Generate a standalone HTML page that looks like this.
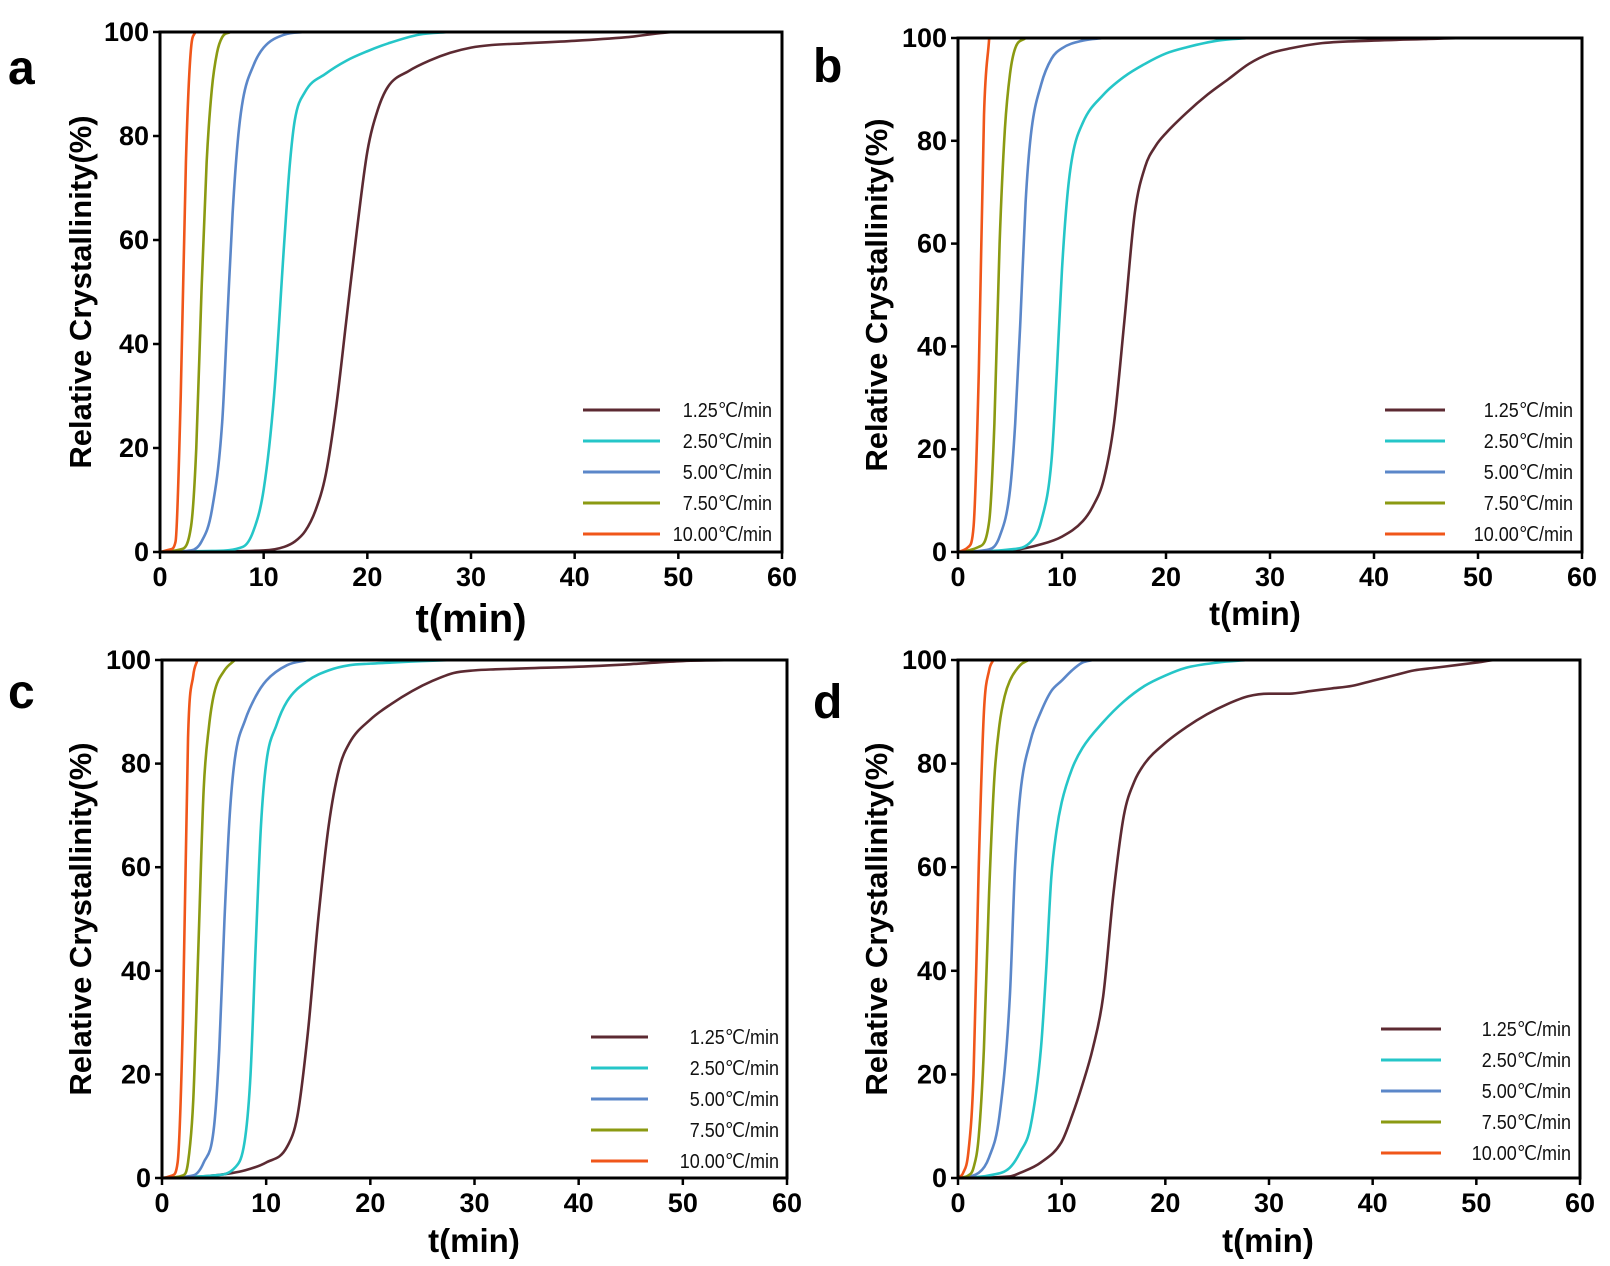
<!DOCTYPE html>
<html><head><meta charset="utf-8"><style>
html,body{margin:0;padding:0;background:#fff;}
svg{display:block;font-family:"Liberation Sans",Arial,sans-serif;}
</style></head><body>
<svg id="fig" width="1610" height="1266" viewBox="0 0 1610 1266" xmlns="http://www.w3.org/2000/svg"></svg>
<script>
const seriesLabels = ["1.25℃/min","2.50℃/min","5.00℃/min","7.50℃/min","10.00℃/min"];
const seriesColors = ["#5c2a32","#25c6c8","#5b87c9","#8b9a12","#f0561a"];
const xTicks = [0,10,20,30,40,50,60];
const yTicks = [0,20,40,60,80,100];

// panel a
const aT0=[0,10,12,13,14,15,16,17,18,19,20,21,22,24,26,28,30,32,35,40,45,50,56];
const aY0=[0,0.3,1,2,4,8,15,28,45,62,77,85,89.5,92.5,94.5,96,97,97.5,97.8,98.3,99,100,100];
const aT1=[0,5,8,9,10,11,12,12.5,13,14,16,18,20,22,25,28];
const aY1=[0,0.2,1,4,12,30,60,74,83,88.5,92,94.5,96.3,97.8,99.5,100];
const aT2=[0,3,4,5,6,6.5,7,7.5,8,9,10,12,14];
const aY2=[0,0.3,2,8,25,45,65,79,87,93.5,97,99.5,100];
const aT3=[0,2,3,3.5,4,4.5,5,5.5,6,6.8];
const aY3=[0,0.5,5,20,50,75,89,96,99,100];
const aT4=[0,1,1.5,2,2.5,3,3.4];
const aY4=[0,0.5,2,30,75,97,100];
// panel b
const bT0=[0,5,8,10,12,13,14,15,16,17,18,19,20,22,24,26,28,30,32,35,40,45,50,56];
const bY0=[0,0.3,1.5,3,6,9,14,25,45,66,75,79,81.5,85.5,89,92,95,97,98,99,99.5,99.8,100,100];
const bT1=[0,5,7,8,9,9.5,10,10.5,11,12,14,16,18,20,22,25,28];
const bY1=[0,0.5,2,6,18,35,55,69,77,83.5,89,92.5,95,97,98.2,99.5,100];
const bT2=[0,3,4,5,5.5,6,6.5,7,8,9,10,12,14];
const bY2=[0,0.5,3,12,25,45,68,81,91,96,98,99.5,100];
const bT3=[0,2,3,3.5,4,4.5,5,5.5,6.5];
const bY3=[0,1,6,25,60,82,93,98,100];
const bT4=[0,1,1.5,2,2.5,3];
const bY4=[0,1,5,35,85,100];
// panel c
const cT0=[0,5,8,10,12,13,14,15,16,17,18,20,22,24,26,28,30,32,35,40,45,50,56];
const cY0=[0,0.5,1.5,3,6,12,28,50,68,79,84,88.5,91.5,94,96,97.5,98,98.2,98.4,98.7,99.2,99.8,100];
const cT1=[0,5,7,8,8.5,9,9.5,10,11,12,14,16,18,20,22,25,28];
const cY1=[0,0.5,2,8,20,45,68,80,87.5,92,96,98,99,99.3,99.5,99.8,100];
const cT2=[0,3,4,5,5.5,6,6.5,7,8,9,10,12,14];
const cY2=[0,0.5,3,10,25,50,70,81,88.5,93,96,99,100];
const cT3=[0,2,2.5,3,3.5,4,4.5,5,6,7];
const cY3=[0,0.5,3,15,45,75,87,93.5,98,100];
const cT4=[0,1,1.5,2,2.5,3,3.4];
const cY4=[0,0.5,3,30,85,97,100];
// panel d
const dT0=[0,5,6,8,10,11,12,13,14,15,16,17,18,20,22,24,26,28,30,32,34,36,38,40,42,44,46,48,50,52,56];
const dY0=[0,0.3,1,3,7,12,18,25,35,55,70,76.5,80,84,87,89.5,91.5,93,93.5,93.5,94,94.5,95,96,97,98,98.5,99,99.5,100,100];
const dT1=[0,3,5,6,7,8,8.5,9,9.5,10,11,12,14,16,18,20,22,25,28];
const dY1=[0,0.5,2,5,10,25,40,58,67,72.5,79,83,88,92,95,97,98.5,99.5,100];
const dT2=[0,2,3,4,5,5.5,6,7,8,9,10,11,12,13];
const dY2=[0,1,4,12,35,60,74,84.5,90,94,96,98,99.5,100];
const dT3=[0,1,1.5,2,2.5,3,3.5,4,4.5,5,6,6.8];
const dY3=[0,0.5,2,8,25,55,77,87.5,93,96,99,100];
const dT4=[0,0.5,1,1.5,2,2.5,3,3.4];
const dY4=[0,1,5,20,60,90,98,100];

const panels=[
 {id:"a",x0:160,x1:782,y0:552,y1:32,series:[[aT0,aY0],[aT1,aY1],[aT2,aY2],[aT3,aY3],[aT4,aY4]],
  letter:[8,84],xt:[471,632,40],yt:[90,292],leg:{lx1:583,lx2:660,tx:772,ty:410,dy:31}},
 {id:"b",x0:958,x1:1582,y0:552,y1:38,series:[[bT0,bY0],[bT1,bY1],[bT2,bY2],[bT3,bY3],[bT4,bY4]],
  letter:[813,82],xt:[1255,625,33],yt:[886,295],leg:{lx1:1385,lx2:1445,tx:1573,ty:410,dy:31}},
 {id:"c",x0:162,x1:787,y0:1178,y1:660,series:[[cT0,cY0],[cT1,cY1],[cT2,cY2],[cT3,cY3],[cT4,cY4]],
  letter:[8,708],xt:[474,1252,33],yt:[90,919],leg:{lx1:591,lx2:648,tx:779,ty:1037,dy:31}},
 {id:"d",x0:958,x1:1580,y0:1178,y1:660,series:[[dT0,dY0],[dT1,dY1],[dT2,dY2],[dT3,dY3],[dT4,dY4]],
  letter:[813,718],xt:[1268,1252,33],yt:[886,919],leg:{lx1:1381,lx2:1441,tx:1571,ty:1029,dy:31}}
];

const NS="http://www.w3.org/2000/svg";
const svg=document.getElementById('fig');
function mk(tag,attrs,parent,txt){const e=document.createElementNS(NS,tag);for(const k in attrs)e.setAttribute(k,attrs[k]);if(txt!==undefined)e.textContent=txt;parent.appendChild(e);return e;}

function monoPath(px,py){
 const n=px.length;if(n<2)return "";
 const d=[],m=new Array(n);
 for(let i=0;i<n-1;i++)d.push((py[i+1]-py[i])/(px[i+1]-px[i]||1e-9));
 m[0]=d[0];m[n-1]=d[n-2];
 for(let i=1;i<n-1;i++){m[i]=(d[i-1]*d[i]<=0)?0:(d[i-1]+d[i])/2;}
 for(let i=0;i<n-1;i++){if(d[i]===0){m[i]=0;m[i+1]=0;continue;}
  const a=m[i]/d[i],b=m[i+1]/d[i],s=a*a+b*b;if(s>9){const t=3/Math.sqrt(s);m[i]=t*a*d[i];m[i+1]=t*b*d[i];}}
 let p="M"+px[0].toFixed(2)+","+py[0].toFixed(2);
 for(let i=0;i<n-1;i++){const h=(px[i+1]-px[i])/3;
  p+=" C"+(px[i]+h).toFixed(2)+","+(py[i]+m[i]*h).toFixed(2)+" "+(px[i+1]-h).toFixed(2)+","+(py[i+1]-m[i+1]*h).toFixed(2)+" "+px[i+1].toFixed(2)+","+py[i+1].toFixed(2);}
 return p;
}

panels.forEach(P=>{
 const g=mk('g',{},svg);
 
 
 const sx=t=>P.x0+(P.x1-P.x0)*t/60;
 const sy=v=>P.y0+(P.y1-P.y0)*v/100;
 const lt=mk('text',{x:P.letter[0],y:P.letter[1],'font-size':48,'font-weight':'bold',fill:'#000'},g,P.id);
 
 
 P.series.forEach((s,i)=>{
  const px=s[0].map(sx),py=s[1].map(sy);
  const path=mk('path',{d:monoPath(px,py),fill:'none',stroke:seriesColors[i],'stroke-width':2.6,'stroke-linejoin':'round'},g);
  
  
 });
 const fr=mk('rect',{x:P.x0,y:P.y1,width:P.x1-P.x0,height:P.y0-P.y1,fill:'none',stroke:'#000','stroke-width':3},g);
 
 
 xTicks.forEach(t=>{
  mk('line',{x1:sx(t),x2:sx(t),y1:P.y0,y2:P.y0+7,stroke:'#000','stroke-width':2.5},g);
  const tl=mk('text',{x:sx(t),y:P.y0+34,'font-size':27,'font-weight':'bold','text-anchor':'middle'},g,t);
  
  
 });
 yTicks.forEach(v=>{
  mk('line',{x1:P.x0-7,x2:P.x0,y1:sy(v),y2:sy(v),stroke:'#000','stroke-width':2.5},g);
  const tl=mk('text',{x:P.x0-11,y:sy(v)+9,'font-size':27,'font-weight':'bold','text-anchor':'end'},g,v);
  
  
 });
 const xt=mk('text',{x:P.xt[0],y:P.xt[1],'font-size':P.xt[2],'font-weight':'bold','text-anchor':'middle'},g,'t(min)');
 
 
 const yt=mk('text',{x:0,y:0,'font-size':31,'font-weight':'bold','text-anchor':'middle',transform:'translate('+(P.yt[0]+1)+','+P.yt[1]+') rotate(-90)'},g,'Relative Crystallinity(%)');
 
 
 const L=P.leg;
 seriesLabels.forEach((lab,i)=>{
  const y=L.ty+i*L.dy;
  const ll=mk('line',{x1:L.lx1,x2:L.lx2,y1:y,y2:y,stroke:seriesColors[i],'stroke-width':3},g);
  
  
  const tx=mk('text',{x:L.tx,y:y+7,'font-size':20,'text-anchor':'end',fill:'#111',transform:'translate('+(L.tx*0.1)+',0) scale(0.9,1)'},g,lab);
  
  
 });
});
</script>
</body></html>
